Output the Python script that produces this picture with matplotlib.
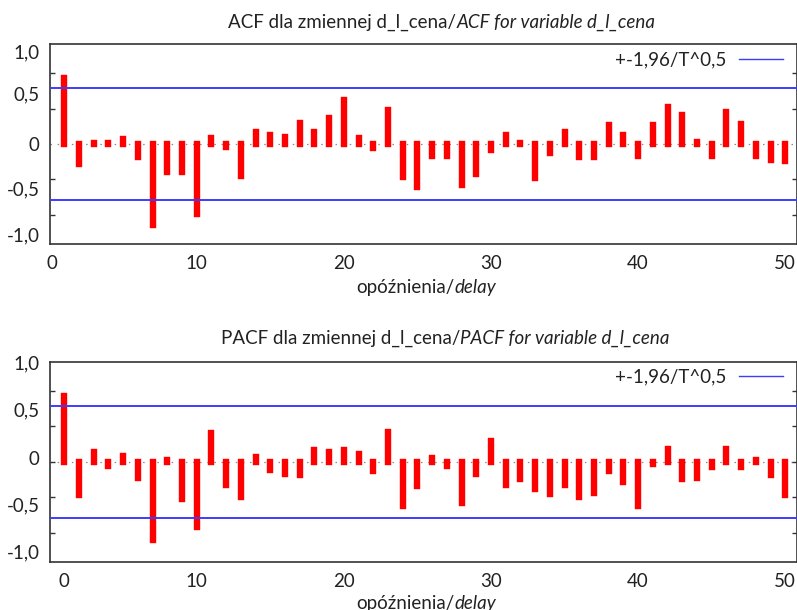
import matplotlib
matplotlib.use('Agg')
from matplotlib import pyplot as plt
from matplotlib.lines import Line2D
from matplotlib.offsetbox import TextArea, HPacker, AnnotationBbox

plt.rcParams['font.family'] = ['Lato', 'DejaVu Sans']

# data
lags = list(range(1, 51))
acf = [0.66, -0.20, 0.01, 0.01, 0.05, -0.13, -0.81, -0.28, -0.28, -0.70,
       0.06, -0.03, -0.32, 0.12, 0.09, 0.07, 0.21, 0.12, 0.26, 0.44,
       0.06, -0.04, 0.34, -0.33, -0.43, -0.12, -0.12, -0.41, -0.30, -0.06,
       0.09, 0.01, -0.34, -0.09, 0.12, -0.13, -0.13, 0.19, 0.09, -0.12,
       0.19, 0.37, 0.29, 0.02, -0.12, 0.32, 0.20, -0.12, -0.16, -0.17]
pacf = [0.66, -0.33, 0.10, -0.04, 0.06, -0.16, -0.78, 0.02, -0.37, -0.65,
        0.29, -0.23, -0.35, 0.05, -0.08, -0.12, -0.13, 0.12, 0.10, 0.12,
        0.08, -0.09, 0.30, -0.44, -0.24, 0.04, -0.04, -0.41, -0.12, 0.21,
        -0.23, -0.17, -0.27, -0.32, -0.23, -0.35, -0.31, -0.09, -0.20, -0.44,
        -0.02, 0.13, -0.17, -0.16, -0.05, 0.13, -0.05, 0.02, -0.13, -0.33]
bound = 0.56
legend_label = '+-1,96/T^0,5'
x_label = ('opóźnienia/', 'delay')
titles = [('ACF dla zmiennej d_l_cena/', 'ACF for variable d_l_cena'),
          ('PACF dla zmiennej d_l_cena/', 'PACF for variable d_l_cena')]
ytick_labels = ['1,0', '0,5', '0', '-0,5', '-1,0']
xtick_labels = ['0', '10', '20', '30', '40', '50']

FS = 13.5
DARK = '#333333'
BLUE = '#3c3cff'
W, H = 797, 610


def mixed_text(fig, parts, x, y):
    boxes = [TextArea(parts[0], textprops=dict(fontsize=FS, color='#222222')),
             TextArea(parts[1], textprops=dict(fontsize=FS, color='#222222', fontstyle='italic'))]
    pack = HPacker(children=boxes, align='baseline', pad=0, sep=0)
    ab = AnnotationBbox(pack, (x, H - y), xycoords='figure pixels', frameon=False,
                        box_alignment=(0.5, 0.5), pad=0)
    fig.add_artist(ab)


def draw_panel(ax, vals, ylabel_pos, xlabel_pos):
    ax.set_xlim(0, 50.8)
    ax.set_ylim(-1, 1)
    ax.axhline(0, color='#8a8a8a', lw=0.9, ls=(0, (1.2, 4.5)), zorder=1)
    ax.vlines(lags, 0, vals, colors='#ff0000', lw=4.6, capstyle='projecting', zorder=2)
    ax.axhline(bound, color=BLUE, lw=1.4, zorder=3)
    ax.axhline(-bound, color=BLUE, lw=1.4, zorder=3)

    # labels (gretl puts them slightly off the tick marks)
    ax.set_yticks(ylabel_pos)
    ax.set_yticklabels(ytick_labels)
    ax.set_xticks(xlabel_pos)
    ax.set_xticklabels(xtick_labels)
    ax.tick_params(axis='both', which='major', length=0, labelsize=FS,
                   labelcolor='#222222')
    ax.tick_params(axis='y', which='major', pad=7)
    ax.tick_params(axis='x', which='major', pad=8)
    ax.set_yticks([-0.71, -0.355, 0, 0.355, 0.71], minor=True)
    ax.set_xticks([10, 20, 30, 40, 50], minor=True)
    ax.tick_params(axis='y', which='minor', direction='in', length=3.6, width=1,
                   color=DARK, left=True, right=True)
    ax.tick_params(axis='x', which='minor', direction='in', length=5.8, width=1,
                   color=DARK, bottom=True, top=True)
    for s in ax.spines.values():
        s.set_color(DARK)
        s.set_linewidth(1.2)

    handle = Line2D([], [], color=BLUE, lw=1)
    ax.legend([handle], [legend_label], loc='upper right', frameon=False,
              markerfirst=False, handlelength=2.35, handletextpad=0.64,
              borderpad=0, borderaxespad=0, bbox_to_anchor=(0.981, 0.965),
              fontsize=FS, labelcolor='#222222')


fig = plt.figure(figsize=(W / 100, H / 100), dpi=100)
ax1 = fig.add_axes([49.5 / W, (H - 243.5) / H, 747.5 / W, 199.2 / H])
ax2 = fig.add_axes([49.5 / W, (H - 561.7) / H, 747.5 / W, 200 / H])

draw_panel(ax1, acf, [0.93, 0.51, 0.0, -0.45, -0.91], [0.15, 10, 20, 30, 40, 50])
draw_panel(ax2, pacf, [0.99, 0.52, 0.04, -0.43, -0.90], [0.95, 10, 20, 30, 40, 50])

mixed_text(fig, titles[0], 442, 22)
mixed_text(fig, titles[1], 445, 338)
mixed_text(fig, x_label, 426, 288)
mixed_text(fig, x_label, 426, 603)

fig.savefig('out.png', dpi=100)
